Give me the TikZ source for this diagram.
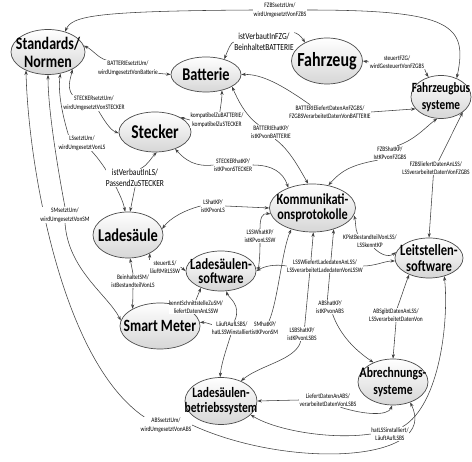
\documentclass[tikz,border=0pt]{standalone}
\usepackage{fontspec}
\newfontfamily\cf[FakeStretch=0.8]{Carlito}
\usetikzlibrary{shapes.geometric,arrows.meta}
\pgfdeclarelayer{bg}
\pgfsetlayers{bg,main}
\newcommand{\fsz}[2]{\fontsize{#1}{#2}\selectfont}

\begin{document}
\begin{tikzpicture}[x=1pt,y=-1pt,
  ent/.style={ellipse, draw=black!70, line width=0.7pt, top color=white, bottom color=black!16, inner sep=0pt},
  etext/.style={inner sep=0pt, align=center},
  lab/.style={fill=white, inner sep=0.4pt, align=center, font=\cf\fsz{6.8}{8.5}},
  biglab/.style={fill=white, inner sep=0.4pt, align=center, font=\cf\fsz{9.3}{11}},
  con/.style={draw=black!75, line width=0.55pt, -{Stealth[length=4.5pt,width=3.2pt]}}]

\useasboundingbox (0,0) rectangle (472,462);
\begin{pgfonlayer}{bg}
  \fill[white] (0,0) rectangle (472,462);
\end{pgfonlayer}

% entities
\node[ent, minimum width=74pt, minimum height=45pt] (std)  at (48,52)    {};
\node[ent, minimum width=70pt, minimum height=35pt] (bat)  at (206,74.5) {};
\node[ent, minimum width=71pt, minimum height=46pt] (fzg)  at (327,61)   {};
\node[ent, minimum width=60pt, minimum height=43pt] (fzbs) at (441,97)   {};
\node[ent, minimum width=72pt, minimum height=40pt] (stk)  at (155,132)  {};
\node[ent, minimum width=70pt, minimum height=46pt] (ls)   at (128,235)  {};
\node[ent, minimum width=86pt, minimum height=48pt] (kp)   at (312.5,208){};
\node[ent, minimum width=70pt, minimum height=40pt] (lssw) at (221,271)  {};
\node[ent, minimum width=68pt, minimum height=40pt] (lst)  at (429,258)  {};
\node[ent, minimum width=80pt, minimum height=46pt] (sm)   at (160,326)  {};
\node[ent, minimum width=72pt, minimum height=47pt] (lsbs) at (221,401)  {};
\node[ent, minimum width=70pt, minimum height=46pt] (abs)  at (393,382)  {};

\node[etext, font=\cf\bfseries\fsz{17.5}{18}] (stdT)  at (std)  {Standards/\\Normen};
\node[etext, font=\cf\bfseries\fsz{17.9}{18}] (batT)  at (bat)  {Batterie};
\node[etext, font=\cf\bfseries\fsz{20}{20}]   (fzgT)  at (fzg)  {Fahrzeug};
\node[etext, font=\cf\bfseries\fsz{14.1}{17}] (fzbsT) at (fzbs) {Fahrzeugbus\\systeme};
\node[etext, font=\cf\bfseries\fsz{19.5}{20}] (stkT)  at (stk)  {Stecker};
\node[etext, font=\cf\bfseries\fsz{18}{18}]   (lsT)   at (ls)   {Ladesäule};
\node[etext, font=\cf\bfseries\fsz{15.3}{14.5}] (kpT) at (kp)   {Kommunikati-\\onsprotokolle};
\node[etext, font=\cf\bfseries\fsz{15.5}{14.5}] (lsswT) at (lssw) {Ladesäulen-\\software};
\node[etext, font=\cf\bfseries\fsz{15.7}{16}] (lstT)  at (lst)  {Leitstellen-\\software};
\node[etext, font=\cf\bfseries\fsz{17.2}{18}] (smT)   at (sm)   {Smart Meter};
\node[etext, font=\cf\bfseries\fsz{14.4}{15}] (lsbsT) at (lsbs) {Ladesäulen-\\betriebssystem};
\node[etext, font=\cf\bfseries\fsz{14.5}{17}] (absT)  at (abs)  {Abrechnungs-\\systeme};

% relation labels
\node[lab] (l1)  at (280,10)  {FZBSsetztUm/\\wirdUmgesetztVonFZBS};
\node[lab] (l2)  at (128,68)  {BATTERIEsetztUm/\\wirdUmgesetztVonBatterie};
\node[biglab] (l3) at (264,42) {istVerbautInFZG/\\BeinhaltetBATTERIE};
\node[lab] (l4)  at (397,62)  {steuertFZG/\\wirdGesteuertVonFZGBS};
\node[lab] (l5)  at (330,112) {BATTERIEliefertDatenAnFZGBS/\\FZGBSVerarbeitetDatenVonBATTERIE};
\node[lab] (l6)  at (94,103)  {STECKERsetztUm/\\wirdUmgesetztVonSTECKER};
\node[lab] (l7)  at (82,143)  {LSsetztUm/\\wirdUmgesetztVonLS};
\node[lab] (l8)  at (65,215)  {SMsetztUm/\\wirdUmgesetztVonSM};
\node[lab] (l9)  at (166,425) {ABSsetztUm/\\wirdUmgesetztVonABS};
\node[biglab] (l10) at (135,178) {istVerbautInLS/\\PassendZuSTECKER};
\node[lab] (l11) at (217,120) {kompatibelZuBATTERIE/\\kompatibelZuSTECKER};
\node[lab] (l12) at (271,132) {BATTERIEhatKP/\\istKPvonBATTERIE};
\node[lab] (l13) at (233,165) {STECKERhatKP/\\istKPvonSTECKER};
\node[lab] (l14) at (213,206) {LShatKP/\\istKPvonLS};
\node[lab] (l15) at (260,236) {LSSWhatKP/\\istKPvonLSSW};
\node[lab] (l16) at (165,267) {steuertLS/\\läuftMitLSSW};
\node[lab] (l17) at (133,281) {BeinhaltetSM/\\istBestandteilVonLS};
\node[lab] (l18) at (325,266) {LSSWliefertLadedatenAnLSS/\\LSSverarbeitetLadedatenVonLSSW};
\node[lab] (l19) at (370,241) {KPistBestandteilVonLSS/\\LSSkenntKP};
\node[lab] (l20) at (265,328) {SMhatKP/\\istKPvonSM};
\node[lab] (l21) at (232,328) {LäuftAufLSBS/\\hatLSSWinstalliert};
\node[lab] (l22) at (196,307) {kenntSchnittstelleZuSM/\\liefertDatenAnLSSW};
\node[lab] (l23) at (302,334) {LSBShatKP/\\istKPvonLSBS};
\node[lab] (l24) at (330,307) {ABShatKP/\\istKPvonABS};
\node[lab] (l25) at (396,315) {ABSgibtDatenAnLSS/\\LSSverarbeitetDatenVon};
\node[lab] (l26) at (328,400) {LiefertDatenAnABS/\\verarbeitetDatenVonLSBS};
\node[lab] (l27) at (390,434) {hatLSSinstalliert/\\LäuftAufLSBS};
\node[lab] (l28) at (390,153) {FZBShatKP/\\IstKPvonFZGBS};
\node[lab] (l29) at (436,168) {FZBSliefertDatenAnLSS/\\LSSverarbeitetDatenVonFZGBS};

% connectors: each relation runs from its label to both entities
\begin{pgfonlayer}{bg}
\draw[con] (l1.west) .. controls (95,11) and (72,16) .. (std.50);
\draw[con] (l1.east) .. controls (452,10) and (468,25) .. (fzbs.50);
\draw[con] (l2.160) .. controls (98,58) and (93,50) .. (std.10);
\draw[con] (l2.-10) -- (bat.west);
\draw[con] (l3.west) .. controls (231,42) and (228,50) .. (bat.40);
\draw[con] (l3.north east) .. controls (297,33) and (301,36) .. (fzg.140);
\draw[con] (l4.west) -- (fzg.east);
\draw[con] (l4.south east) .. controls (425,72) .. (fzbs.122);
\draw[con] (l5.160) .. controls (282,85) and (262,74) .. (bat.east);
\draw[con] (l5.east) -- (fzbs.205);
\draw[con] (l6.160) .. controls (67,88) and (70,80) .. (std.-35);
\draw[con] (l6.-60) .. controls (104,120) and (110,130) .. (stk.182);
\draw[con] (l7.150) .. controls (61,110) and (58,90) .. (std.-60);
\draw[con] (l7.-40) .. controls (105,165) and (122,195) .. (ls.97);
\draw[con] (l8.north) .. controls (58,170) and (48,110) .. (std.-90);
\draw[con] (l8.south) .. controls (68,270) and (108,295) .. (sm.172);
\draw[con] (l9.160) .. controls (60,360) and (28,160) .. (std.-140);
\draw[con] (l9.east) .. controls (290,470) and (440,462) .. (abs.-50);
\draw[con] (l10.60) .. controls (148,165) and (151,158) .. (stk.-85);
\draw[con] (l10.south) -- (ls.85);
\draw[con] (l11.west) -- (stk.30);
\draw[con] (l11.70) .. controls (221,104) and (222,98) .. (bat.-45);
\draw[con] (l12.150) .. controls (245,115) and (238,100) .. (bat.-25);
\draw[con] (l12.-60) .. controls (290,150) and (300,170) .. (kp.100);
\draw[con] (l13.west) .. controls (196,167) and (186,161) .. (stk.-40);
\draw[con] (l13.east) .. controls (272,165) and (283,172) .. (kp.140);
\draw[con] (l14.west) .. controls (185,210) and (170,218) .. (ls.10);
\draw[con] (l14.east) -- (kp.west);
\draw[con] (l15.north) .. controls (260,218) and (262,213) .. (kp.188);
\draw[con] (l15.south) .. controls (260,262) and (258,268) .. (lssw.5);
\draw[con] (l16.north west) -- (ls.-40);
\draw[con] (l16.east) -- (lssw.west);
\draw[con] (l17.north) -- (ls.-85);
\draw[con] (l17.south) -- (sm.148);
\draw[con] (l18.west) .. controls (275,264) and (265,266) .. (lssw.east);
\draw[con] (l18.east) .. controls (375,266) and (385,261) .. (lst.185);
\draw[con] (l19.150) .. controls (355,228) and (356,222) .. (kp.-10);
\draw[con] (l19.-60) .. controls (380,254) and (388,258) .. (lst.170);
\draw[con] (l20.60) .. controls (278,300) and (282,250) .. (kp.-135);
\draw[con] (l20.west) .. controls (230,335) and (210,322) .. (sm.5);
\draw[con] (l21.70) .. controls (242,305) and (228,297) .. (lssw.-75);
\draw[con] (l21.-100) .. controls (226,350) and (221,365) .. (lsbs.92);
\draw[con] (l22.north) -- (lssw.-140);
\draw[con] (l22.west) -- (sm.80);
\draw[con] (l23.70) .. controls (308,290) and (312,250) .. (kp.-88);
\draw[con] (l23.-100) .. controls (296,360) and (260,365) .. (lsbs.45);
\draw[con] (l24.110) -- (kp.-45);
\draw[con] (l24.-70) .. controls (340,335) and (355,350) .. (abs.135);
\draw[con] (l25.80) .. controls (402,295) and (405,285) .. (lst.-140);
\draw[con] (l25.south) -- (abs.north);
\draw[con] (l26.west) -- (lsbs.east);
\draw[con] (l26.-30) .. controls (365,415) and (388,416) .. (abs.-92);
\draw[con] (l27.west) .. controls (330,440) and (275,430) .. (lsbs.-25);
\draw[con] (l27.30) .. controls (440,405) and (449,320) .. (lst.-50);
\draw[con] (l28.45) .. controls (415,140) and (428,125) .. (fzbs.-100);
\draw[con] (l28.-150) .. controls (350,165) and (340,172) .. (kp.55);
\draw[con] (l29.70) -- (fzbs.-35);
\draw[con] (l29.-110) -- (lst.north);
\end{pgfonlayer}
\end{tikzpicture}
\end{document}
